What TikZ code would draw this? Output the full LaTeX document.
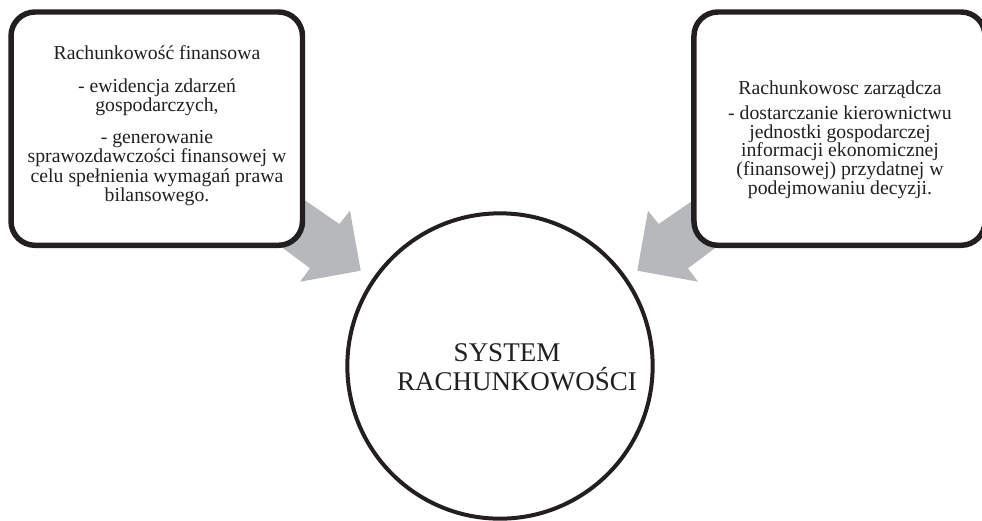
\documentclass[tikz,border=0pt]{standalone}
\usepackage{fontspec}
\setmainfont{Liberation Serif}
\definecolor{ink}{RGB}{35,31,32}
\definecolor{arrowgray}{RGB}{183,184,187}
\begin{document}
\begin{tikzpicture}[x=0.75pt,y=-0.75pt,
  box/.style={draw=ink, line width=4.1pt, rounded corners=18pt, fill=white, inner sep=0pt},
  boxtext/.style={text=ink, align=center, inner sep=0pt, anchor=north, font=\fontsize{14.8pt}{14.4pt}\selectfont},
  blockarrow/.style={fill=arrowgray, draw=none},
  bigcircle/.style={draw=ink, line width=3pt, circle, inner sep=0pt, minimum size=229pt, fill=white}]
\useasboundingbox (0,0) rectangle (982,521);
% block arrows (drawn under the boxes)
\fill[blockarrow] (290,190) -- (339.3,224) -- (350,210.7) -- (360.7,270.7) -- (300,281.7) -- (310,268.3) -- (256.6,228.3) -- cycle;
\fill[blockarrow] (708,190) -- (658.7,224) -- (648,210.7) -- (637.3,270.7) -- (698,281.7) -- (688,268.3) -- (741.4,228.3) -- cycle;
% boxes
\node[box, minimum width=218.6pt, minimum height=175pt] (fin) at (156.75,128.65) {};
\node[box, minimum width=218.3pt, minimum height=175pt] (zarz) at (839.5,128.65) {};
% circle
\node[bigcircle] (sys) at (500,366) {};
% texts
\node[boxtext] (fintxt) at (157,45.6) {Rachunkowość finansowa\\[9.9pt]- ewidencja zdarzeń\\gospodarczych,\\[9.9pt]- generowanie\\sprawozdawczości finansowej w\\celu spełnienia wymagań prawa\\bilansowego.};
\node[boxtext, font=\fontsize{14.8pt}{14pt}\selectfont] (zarztxt) at (840,80.6) {Rachunkowosc zarządcza\\[4.7pt]- dostarczanie kierownictwu\\jednostki gospodarczej\\informacji ekonomicznej\\(finansowej) przydatnej w\\podejmowaniu decyzji.};
\node[text=ink, align=center, inner sep=0pt, font=\fontsize{20.25pt}{21.75pt}\selectfont] (systxt) at (517,367.4) {SYSTEM\hspace*{15pt}\\RACHUNKOWOŚCI};
\end{tikzpicture}
\end{document}
